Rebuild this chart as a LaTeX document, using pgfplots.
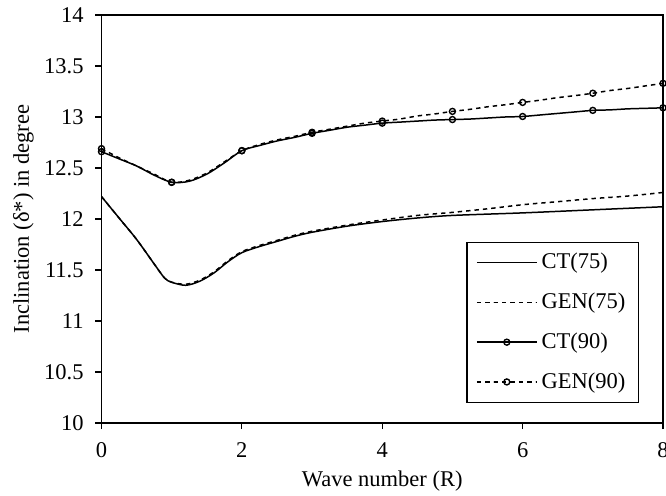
\documentclass[border=0pt]{standalone}
\usepackage{fontspec}
\setmainfont{Liberation Serif}
\usepackage{pgfplots}
\pgfplotsset{compat=1.18}
\begin{document}
\fontsize{11.25bp}{13.5bp}\selectfont
\begin{tikzpicture}
\useasboundingbox (-50.75bp,-36.5bp) rectangle (282.25bp,211.5bp);
\begin{axis}[
  at={(0,0)}, anchor=south west,
  scale only axis, width=280.75bp, height=204bp,
  xmin=0, xmax=8, ymin=10, ymax=14,
  xtick={0,2,4,6,8}, ytick={10,10.5,...,14},
  yticklabels={10,10.5,11,11.5,12,12.5,13,13.5,14},
  tick align=outside, tickwidth=3bp,
  xtick pos=bottom, ytick pos=left,
  axis line style={line width=0.6pt},
  tick style={line width=0.6pt, black},
  /pgf/number format/assume math mode=true,
  tick label style={font=\fontsize{11.25bp}{13.5bp}\selectfont},
  label style={font=\fontsize{11.25bp}{13.5bp}\selectfont},
  xticklabel style={yshift=-3bp},
  yticklabel style={xshift=-2bp},
  xlabel={Wave number (R)},
  ylabel={Inclination (δ*) in degree},
  xlabel style={at={(axis description cs:0.5,-0.142)}, anchor=center},
  ylabel style={at={(axis description cs:-0.139,0.5)}, anchor=center},
  legend style={at={(axis description cs:0.957,0.049)}, anchor=south east,
    draw=black, line width=0.6pt, font=\fontsize{11.25bp}{13.5bp}\selectfont,
    row sep=6.4bp, inner xsep=4.5bp, inner ysep=3.5bp},
  legend cell align=left,
  legend image code/.code={\draw[mark repeat=2,mark phase=2] plot coordinates {(0bp,0bp) (15bp,0bp) (30bp,0bp)};},
]
% CT(75)
\addplot[black, line width=0.75pt, smooth, tension=0.5, no marks] coordinates {
(0,12.22) (0.25,12.01) (0.5,11.80) (0.75,11.56) (0.9,11.42) (1,11.38) (1.2,11.35) (1.4,11.39) (1.6,11.47) (1.8,11.58) (2,11.67) (2.25,11.73) (2.5,11.78) (2.75,11.83) (3,11.87) (3.5,11.93) (4,11.975) (4.5,12.01) (5,12.035) (6,12.06) (7,12.09) (8,12.12)};
\addlegendentry{CT(75)}
% GEN(75)
\addplot[black, line width=0.75pt, smooth, tension=0.5, no marks, dash pattern=on 2.2bp off 2bp] coordinates {
(0,12.22) (0.25,12.01) (0.5,11.80) (0.75,11.56) (0.9,11.42) (1,11.38) (1.2,11.36) (1.4,11.40) (1.6,11.48) (1.8,11.59) (2,11.68) (2.25,11.74) (2.5,11.79) (2.75,11.84) (3,11.88) (3.5,11.94) (4,11.99) (4.5,12.035) (5,12.065) (5.5,12.10) (6,12.14) (6.5,12.17) (7,12.20) (7.5,12.225) (8,12.26)};
\addlegendentry{GEN(75)}
% CT(90)
\addplot[black, line width=0.75pt, smooth, tension=0.5, mark=o, mark size=1.5bp, mark options={solid, fill=white, line width=0.7pt}, mark repeat=4] coordinates {
(0,12.66) (0.25,12.59) (0.5,12.52) (0.75,12.43) (1,12.36) (1.25,12.37) (1.5,12.44) (1.75,12.55) (2,12.67) (2.25,12.72) (2.5,12.765) (2.75,12.80) (3,12.84) (3.25,12.87) (3.5,12.90) (3.75,12.92) (4,12.94) (4.25,12.95) (4.5,12.96) (4.75,12.97) (5,12.975) (5.25,12.98) (5.5,12.99) (5.75,13.00) (6,13.005) (6.25,13.02) (6.5,13.035) (6.75,13.05) (7,13.065) (7.25,13.07) (7.5,13.08) (7.75,13.085) (8,13.09)};
\addlegendentry{CT(90)}
% GEN(90)
\addplot[black, line width=0.75pt, smooth, tension=0.5, dash pattern=on 2.2bp off 2bp, mark=o, mark size=1.5bp, mark options={solid, fill=white, line width=0.7pt}, mark repeat=4] coordinates {
(0,12.69) (0.25,12.60) (0.5,12.52) (0.75,12.44) (1,12.36) (1.25,12.38) (1.5,12.45) (1.75,12.56) (2,12.67) (2.25,12.73) (2.5,12.775) (2.75,12.81) (3,12.85) (3.25,12.88) (3.5,12.91) (3.75,12.94) (4,12.96) (4.25,12.98) (4.5,13.01) (4.75,13.03) (5,13.055) (5.25,13.075) (5.5,13.10) (5.75,13.12) (6,13.143) (6.25,13.165) (6.5,13.19) (6.75,13.21) (7,13.233) (7.25,13.26) (7.5,13.28) (7.75,13.305) (8,13.33)};
\addlegendentry{GEN(90)}
\end{axis}
\end{tikzpicture}
\end{document}
